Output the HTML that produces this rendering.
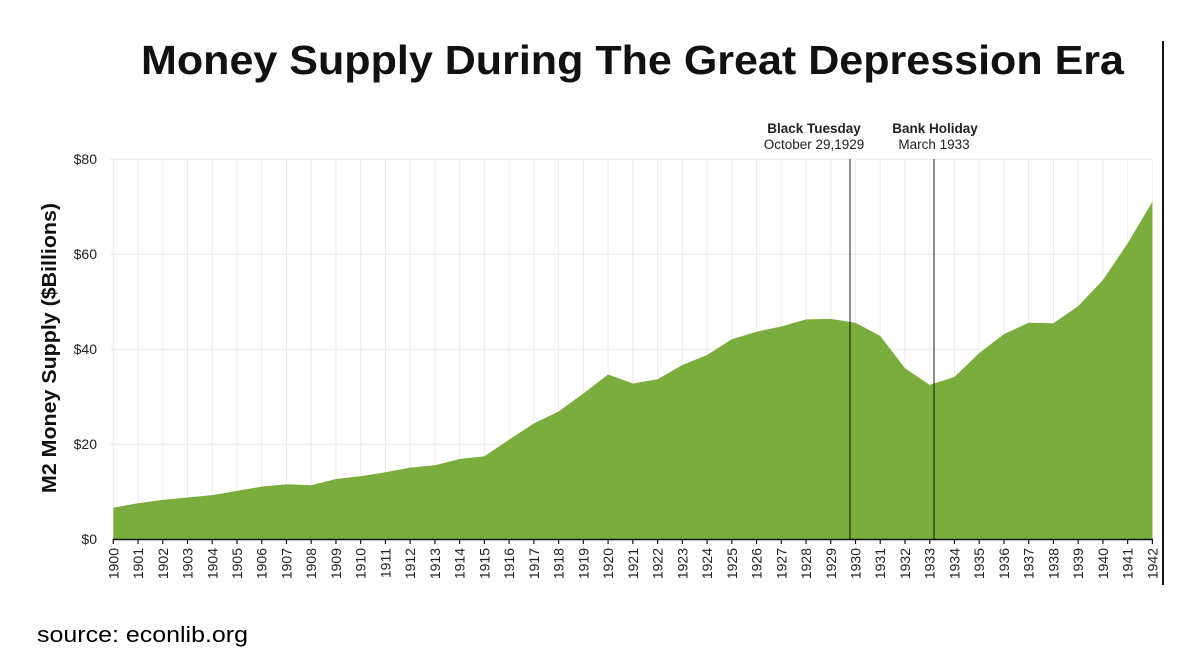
<!DOCTYPE html>
<html>
<head>
<meta charset="utf-8">
<style>
  html,body{margin:0;padding:0;background:#fff;}
  svg{display:block;}
</style>
</head>
<body>
<svg width="1194" height="672" viewBox="0 0 1194 672" xmlns="http://www.w3.org/2000/svg">
  <rect x="0" y="0" width="1194" height="672" fill="#fff"/>

  <!-- Title -->
  <text x="141" y="74" font-family="Liberation Sans, Arial, sans-serif" font-weight="bold" font-size="41" fill="#111" textLength="983" lengthAdjust="spacingAndGlyphs">Money Supply During The Great Depression Era</text>

  <!-- horizontal gridlines -->
  <g stroke="#ebebeb" stroke-width="1">
    <line x1="110" y1="159.3" x2="1152.4" y2="159.3"/>
    <line x1="110" y1="254.3" x2="1152.4" y2="254.3"/>
    <line x1="110" y1="349.3" x2="1152.4" y2="349.3"/>
    <line x1="110" y1="444.3" x2="1152.4" y2="444.3"/>
  </g>

  <!-- vertical gridlines -->
  <g stroke="#ebebeb" stroke-width="1">
    <line x1="113.3" y1="159" x2="113.3" y2="539"/>
    <line x1="138.04" y1="159" x2="138.04" y2="539"/>
    <line x1="162.78" y1="159" x2="162.78" y2="539"/>
    <line x1="187.52" y1="159" x2="187.52" y2="539"/>
    <line x1="212.26" y1="159" x2="212.26" y2="539"/>
    <line x1="237.0" y1="159" x2="237.0" y2="539"/>
    <line x1="261.74" y1="159" x2="261.74" y2="539"/>
    <line x1="286.48" y1="159" x2="286.48" y2="539"/>
    <line x1="311.22" y1="159" x2="311.22" y2="539"/>
    <line x1="335.96" y1="159" x2="335.96" y2="539"/>
    <line x1="360.7" y1="159" x2="360.7" y2="539"/>
    <line x1="385.44" y1="159" x2="385.44" y2="539"/>
    <line x1="410.18" y1="159" x2="410.18" y2="539"/>
    <line x1="434.92" y1="159" x2="434.92" y2="539"/>
    <line x1="459.66" y1="159" x2="459.66" y2="539"/>
    <line x1="484.4" y1="159" x2="484.4" y2="539"/>
    <line x1="509.14" y1="159" x2="509.14" y2="539"/>
    <line x1="533.88" y1="159" x2="533.88" y2="539"/>
    <line x1="558.62" y1="159" x2="558.62" y2="539"/>
    <line x1="583.36" y1="159" x2="583.36" y2="539"/>
    <line x1="608.1" y1="159" x2="608.1" y2="539"/>
    <line x1="632.84" y1="159" x2="632.84" y2="539"/>
    <line x1="657.58" y1="159" x2="657.58" y2="539"/>
    <line x1="682.32" y1="159" x2="682.32" y2="539"/>
    <line x1="707.06" y1="159" x2="707.06" y2="539"/>
    <line x1="731.8" y1="159" x2="731.8" y2="539"/>
    <line x1="756.54" y1="159" x2="756.54" y2="539"/>
    <line x1="781.28" y1="159" x2="781.28" y2="539"/>
    <line x1="806.02" y1="159" x2="806.02" y2="539"/>
    <line x1="830.76" y1="159" x2="830.76" y2="539"/>
    <line x1="855.5" y1="159" x2="855.5" y2="539"/>
    <line x1="880.24" y1="159" x2="880.24" y2="539"/>
    <line x1="904.98" y1="159" x2="904.98" y2="539"/>
    <line x1="929.72" y1="159" x2="929.72" y2="539"/>
    <line x1="954.46" y1="159" x2="954.46" y2="539"/>
    <line x1="979.2" y1="159" x2="979.2" y2="539"/>
    <line x1="1003.94" y1="159" x2="1003.94" y2="539"/>
    <line x1="1028.68" y1="159" x2="1028.68" y2="539"/>
    <line x1="1053.42" y1="159" x2="1053.42" y2="539"/>
    <line x1="1078.16" y1="159" x2="1078.16" y2="539"/>
    <line x1="1102.9" y1="159" x2="1102.9" y2="539"/>
    <line x1="1127.64" y1="159" x2="1127.64" y2="539"/>
    <line x1="1152.38" y1="159" x2="1152.38" y2="539"/>
  </g>

  <!-- area -->
  <path fill="#7aad3e" d="M113.3,539.3
    L113.3,507.7 L138.04,503.2 L162.78,499.9 L187.52,497.5 L212.26,495.1 L237.0,490.9
    L261.74,486.6 L286.48,484.2 L311.22,485.2 L335.96,479.0 L360.7,476.1 L385.44,472.3
    L410.18,467.6 L434.92,465.2 L459.66,459.0 L484.4,456.2 L509.14,439.6 L533.88,423.4
    L558.62,411.5 L583.36,393.5 L608.1,374.5 L632.84,383.5 L657.58,379.2 L682.32,365.0
    L707.06,355.0 L731.8,339.3 L756.54,331.7 L781.28,326.5 L806.02,319.4 L830.76,318.9
    L855.5,322.7 L880.24,336.0 L904.98,368.3 L929.72,384.9 L954.46,376.9 L979.2,353.1
    L1003.94,334.1 L1028.68,322.7 L1053.42,323.2 L1078.16,306.1 L1102.9,280.0 L1127.64,243.4
    L1152.38,201.6 L1152.38,539.3 Z"/>

  <!-- event lines -->
  <line x1="850" y1="159" x2="850" y2="539" stroke="rgba(0,0,0,0.55)" stroke-width="1.6"/>
  <line x1="934" y1="159" x2="934" y2="539" stroke="rgba(0,0,0,0.55)" stroke-width="1.6"/>

  <!-- event labels -->
  <g font-family="Liberation Sans, Arial, sans-serif" fill="#222" text-anchor="middle">
    <text x="814" y="133" font-size="13.5" font-weight="bold">Black Tuesday</text>
    <text x="814" y="149" font-size="13.5">October 29,1929</text>
    <text x="935" y="133" font-size="13.5" font-weight="bold">Bank Holiday</text>
    <text x="934" y="149" font-size="13.5">March 1933</text>
  </g>

  <!-- x axis -->
  <line x1="113" y1="539.5" x2="1153" y2="539.5" stroke="#111" stroke-width="1.5"/>
  <g stroke="#111" stroke-width="1.2">
    <line x1="113.3" y1="539" x2="113.3" y2="544"/>
    <line x1="138.04" y1="539" x2="138.04" y2="544"/>
    <line x1="162.78" y1="539" x2="162.78" y2="544"/>
    <line x1="187.52" y1="539" x2="187.52" y2="544"/>
    <line x1="212.26" y1="539" x2="212.26" y2="544"/>
    <line x1="237.0" y1="539" x2="237.0" y2="544"/>
    <line x1="261.74" y1="539" x2="261.74" y2="544"/>
    <line x1="286.48" y1="539" x2="286.48" y2="544"/>
    <line x1="311.22" y1="539" x2="311.22" y2="544"/>
    <line x1="335.96" y1="539" x2="335.96" y2="544"/>
    <line x1="360.7" y1="539" x2="360.7" y2="544"/>
    <line x1="385.44" y1="539" x2="385.44" y2="544"/>
    <line x1="410.18" y1="539" x2="410.18" y2="544"/>
    <line x1="434.92" y1="539" x2="434.92" y2="544"/>
    <line x1="459.66" y1="539" x2="459.66" y2="544"/>
    <line x1="484.4" y1="539" x2="484.4" y2="544"/>
    <line x1="509.14" y1="539" x2="509.14" y2="544"/>
    <line x1="533.88" y1="539" x2="533.88" y2="544"/>
    <line x1="558.62" y1="539" x2="558.62" y2="544"/>
    <line x1="583.36" y1="539" x2="583.36" y2="544"/>
    <line x1="608.1" y1="539" x2="608.1" y2="544"/>
    <line x1="632.84" y1="539" x2="632.84" y2="544"/>
    <line x1="657.58" y1="539" x2="657.58" y2="544"/>
    <line x1="682.32" y1="539" x2="682.32" y2="544"/>
    <line x1="707.06" y1="539" x2="707.06" y2="544"/>
    <line x1="731.8" y1="539" x2="731.8" y2="544"/>
    <line x1="756.54" y1="539" x2="756.54" y2="544"/>
    <line x1="781.28" y1="539" x2="781.28" y2="544"/>
    <line x1="806.02" y1="539" x2="806.02" y2="544"/>
    <line x1="830.76" y1="539" x2="830.76" y2="544"/>
    <line x1="855.5" y1="539" x2="855.5" y2="544"/>
    <line x1="880.24" y1="539" x2="880.24" y2="544"/>
    <line x1="904.98" y1="539" x2="904.98" y2="544"/>
    <line x1="929.72" y1="539" x2="929.72" y2="544"/>
    <line x1="954.46" y1="539" x2="954.46" y2="544"/>
    <line x1="979.2" y1="539" x2="979.2" y2="544"/>
    <line x1="1003.94" y1="539" x2="1003.94" y2="544"/>
    <line x1="1028.68" y1="539" x2="1028.68" y2="544"/>
    <line x1="1053.42" y1="539" x2="1053.42" y2="544"/>
    <line x1="1078.16" y1="539" x2="1078.16" y2="544"/>
    <line x1="1102.9" y1="539" x2="1102.9" y2="544"/>
    <line x1="1127.64" y1="539" x2="1127.64" y2="544"/>
    <line x1="1152.38" y1="539" x2="1152.38" y2="544"/>
  </g>

  <!-- x labels -->
  <g font-family="Liberation Sans, Arial, sans-serif" font-size="14" fill="#222" text-anchor="end">
    <text transform="translate(118.3,548) rotate(-90)">1900</text>
    <text transform="translate(143.04,548) rotate(-90)">1901</text>
    <text transform="translate(167.78,548) rotate(-90)">1902</text>
    <text transform="translate(192.52,548) rotate(-90)">1903</text>
    <text transform="translate(217.26,548) rotate(-90)">1904</text>
    <text transform="translate(242.0,548) rotate(-90)">1905</text>
    <text transform="translate(266.74,548) rotate(-90)">1906</text>
    <text transform="translate(291.48,548) rotate(-90)">1907</text>
    <text transform="translate(316.22,548) rotate(-90)">1908</text>
    <text transform="translate(340.96,548) rotate(-90)">1909</text>
    <text transform="translate(365.7,548) rotate(-90)">1910</text>
    <text transform="translate(390.44,548) rotate(-90)">1911</text>
    <text transform="translate(415.18,548) rotate(-90)">1912</text>
    <text transform="translate(439.92,548) rotate(-90)">1913</text>
    <text transform="translate(464.66,548) rotate(-90)">1914</text>
    <text transform="translate(489.4,548) rotate(-90)">1915</text>
    <text transform="translate(514.14,548) rotate(-90)">1916</text>
    <text transform="translate(538.88,548) rotate(-90)">1917</text>
    <text transform="translate(563.62,548) rotate(-90)">1918</text>
    <text transform="translate(588.36,548) rotate(-90)">1919</text>
    <text transform="translate(613.1,548) rotate(-90)">1920</text>
    <text transform="translate(637.84,548) rotate(-90)">1921</text>
    <text transform="translate(662.58,548) rotate(-90)">1922</text>
    <text transform="translate(687.32,548) rotate(-90)">1923</text>
    <text transform="translate(712.06,548) rotate(-90)">1924</text>
    <text transform="translate(736.8,548) rotate(-90)">1925</text>
    <text transform="translate(761.54,548) rotate(-90)">1926</text>
    <text transform="translate(786.28,548) rotate(-90)">1927</text>
    <text transform="translate(811.02,548) rotate(-90)">1928</text>
    <text transform="translate(835.76,548) rotate(-90)">1929</text>
    <text transform="translate(860.5,548) rotate(-90)">1930</text>
    <text transform="translate(885.24,548) rotate(-90)">1931</text>
    <text transform="translate(909.98,548) rotate(-90)">1932</text>
    <text transform="translate(934.72,548) rotate(-90)">1933</text>
    <text transform="translate(959.46,548) rotate(-90)">1934</text>
    <text transform="translate(984.2,548) rotate(-90)">1935</text>
    <text transform="translate(1008.94,548) rotate(-90)">1936</text>
    <text transform="translate(1033.68,548) rotate(-90)">1937</text>
    <text transform="translate(1058.42,548) rotate(-90)">1938</text>
    <text transform="translate(1083.16,548) rotate(-90)">1939</text>
    <text transform="translate(1107.9,548) rotate(-90)">1940</text>
    <text transform="translate(1132.64,548) rotate(-90)">1941</text>
    <text transform="translate(1157.38,548) rotate(-90)">1942</text>
  </g>

  <!-- y labels -->
  <g font-family="Liberation Sans, Arial, sans-serif" font-size="14" fill="#222" text-anchor="end">
    <text x="97" y="164">$80</text>
    <text x="97" y="259">$60</text>
    <text x="97" y="354">$40</text>
    <text x="97" y="449">$20</text>
    <text x="97" y="544">$0</text>
  </g>

  <!-- y axis title -->
  <text transform="translate(56,348) rotate(-90)" text-anchor="middle" font-family="Liberation Sans, Arial, sans-serif" font-weight="bold" font-size="20" fill="#111" textLength="290" lengthAdjust="spacingAndGlyphs">M2 Money Supply ($Billions)</text>

  <!-- right border line -->
  <line x1="1163" y1="41" x2="1163" y2="585" stroke="#111" stroke-width="2"/>

  <!-- source -->
  <text x="37" y="642" font-family="Liberation Sans, Arial, sans-serif" font-size="22" fill="#000" textLength="211" lengthAdjust="spacingAndGlyphs">source: econlib.org</text>
</svg>
</body>
</html>
